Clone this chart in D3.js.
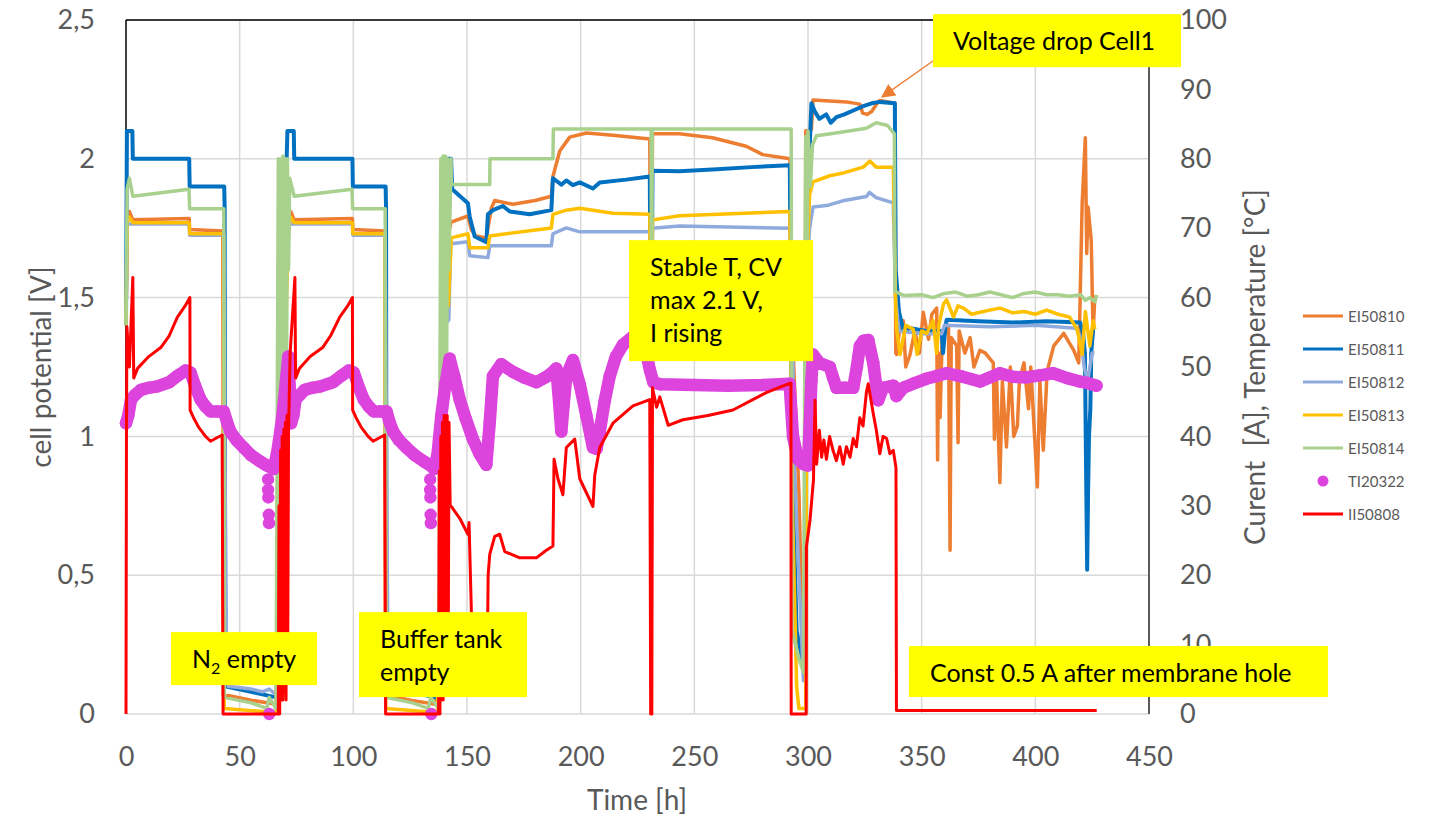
<!DOCTYPE html>
<html>
<head>
<meta charset="utf-8">
<script src="https://d3js.org/d3.v7.min.js"></script>
<style>
  body { margin: 0; background: #fff; }
  svg text { font-family: Lato, "Open Sans", sans-serif; }
</style>
</head>
<body>
<svg id="chart" width="1435" height="816"></svg>
<script>
// ---- data: [time h, value] ----
const EI50810 = [[0,1.4],[0.5,1.78],[1.5,1.81],[3,1.78],[27.8,1.785],[28,1.745],[42.6,1.74],[42.8,0.07],[55,0.05],[66,0.035],[68,0.3],[70,1.5],[71,1.78],[72.5,1.81],[74,1.78],[99.6,1.785],[99.8,1.745],[113.9,1.74],[114.1,0.07],[125,0.05],[136,0.035],[138,0.3],[141,1.7],[143,1.772],[150.4,1.794],[151.9,1.744],[154,1.722],[158.5,1.715],[160.7,1.822],[162.2,1.85],[170.2,1.836],[180,1.85],[187.1,1.865],[187.8,1.936],[190.8,2.028],[195.2,2.078],[202.5,2.093],[214.2,2.085],[230.4,2.071],[231,1.2],[231.6,2.09],[243.4,2.09],[258,2.076],[272.8,2.045],[280.1,2.015],[292,2.0],[293,1.4],[296,0.8],[297.5,0.3],[298.5,0.5],[299,2.1],[301.5,2.106],[302.2,2.212],[316.9,2.205],[322.8,2.197],[324,2.165],[326,2.16],[328,2.17],[330,2.195],[331.6,2.21],[338.2,2.2],[338.6,1.3],[339,1.295],[340.5,1.4],[341.9,1.417],[343,1.25],[344.9,1.295],[347,1.38],[349,1.3],[350.7,1.447],[353,1.35],[354.5,1.44],[356.6,1.462],[357,0.915],[357.5,1.3],[358.1,1.068],[359,1.35],[361.8,1.4],[362.5,0.59],[363,1.356],[365.4,1.326],[366,0.977],[366.5,1.38],[369,1.3],[371.3,1.356],[373,1.25],[375.6,1.31],[378,1.3],[381.5,1.265],[382,0.99],[383,1.2],[384.4,0.833],[385.5,1.2],[387.3,0.962],[389,1.25],[390.5,1.0],[392.1,1.038],[393,1.2],[395,1.265],[397,1.1],[398,1.25],[400.9,0.818],[402,1.2],[403.5,0.95],[405.2,1.235],[408.1,1.326],[412.5,1.371],[416.9,1.31],[419.1,1.265],[420.6,1.84],[422,2.076],[422.6,1.659],[423.2,1.826],[424.6,1.705],[425.4,1.371],[426.2,1.508]];

const EI50811 = [[0,1.4],[0.4,2.1],[2.8,2.1],[3,2.0],[27.8,2.0],[28,1.9],[43.2,1.9],[43.4,1.82],[43.6,0.1],[55,0.08],[66,0.06],[67,0.08],[69,1.3],[70,1.8],[71,2.1],[73.8,2.1],[74,2.0],[99.6,2.0],[99.8,1.9],[114.2,1.9],[114.4,1.82],[114.6,0.1],[125,0.08],[136,0.06],[138,0.08],[140,1.6],[141,2.0],[143,2.0],[143.5,1.89],[150.4,1.84],[151.2,1.79],[153.4,1.72],[158.5,1.70],[159.2,1.8],[161.4,1.815],[165.8,1.83],[168.8,1.81],[177.6,1.8],[187.1,1.815],[187.8,1.93],[191.5,1.907],[193.7,1.922],[196.6,1.905],[199.6,1.915],[205.4,1.893],[208.4,1.915],[220,1.925],[230.4,1.936],[231,1.2],[231.6,1.957],[243.4,1.955],[260,1.962],[275,1.97],[292,1.977],[293,0.9],[295,0.3],[298.5,0.15],[299.2,1.6],[300.5,1.99],[301.5,2.2],[303,2.17],[305,2.144],[308,2.16],[310,2.13],[312.5,2.15],[316,2.16],[319.9,2.174],[324.3,2.19],[328,2.2],[331.6,2.205],[338.2,2.2],[338.6,1.6],[340,1.45],[342,1.38],[345,1.39],[352,1.38],[358.8,1.38],[359.4,1.30],[360.5,1.40],[361,1.42],[375,1.415],[390,1.41],[405,1.415],[419.7,1.41],[421,1.37],[421.8,1.3],[422.3,0.9],[422.8,0.52],[423.2,0.8],[423.6,1.0],[424.2,1.1],[424.6,1.3],[425.4,1.386]];

const EI50812 = [[0,1.4],[0.5,1.765],[27.8,1.765],[28,1.725],[43,1.725],[43.5,0.96],[44.2,0.27],[45,0.1],[55,0.09],[60,0.08],[63,0.09],[66,0.07],[68,0.5],[70,1.42],[71,1.7],[72,1.765],[99.6,1.765],[99.8,1.725],[114,1.725],[114.5,0.96],[115.2,0.27],[116,0.1],[126,0.09],[131,0.08],[134,0.09],[137,0.07],[139,0.6],[140,1.4],[142,1.42],[142.8,1.694],[150.4,1.701],[151.2,1.651],[159.2,1.644],[160,1.687],[187.1,1.687],[187.8,1.73],[193.7,1.751],[199.6,1.737],[230.4,1.737],[231,1.18],[231.6,1.75],[243.4,1.758],[292,1.75],[293,1.5],[294,0.9],[296,0.5],[298,0.12],[299,0.2],[299.5,1.6],[300.7,1.75],[302.2,1.826],[309,1.833],[316,1.85],[325.7,1.864],[327,1.879],[330,1.86],[337.5,1.841],[338.5,1.5],[340,1.38],[350,1.37],[358.8,1.37],[360,1.40],[380,1.395],[400,1.40],[418,1.39],[420,1.35],[421.5,1.25],[423,1.2],[425,1.3],[426,1.3]];

const EI50813 = [[0,1.4],[0.5,1.77],[1.5,1.79],[3,1.77],[27.8,1.77],[28,1.73],[42.9,1.73],[43.2,0.02],[66,0.005],[68,0.8],[69,1.46],[70.5,1.46],[71.5,1.75],[72.5,1.79],[74,1.77],[99.6,1.77],[99.8,1.73],[114,1.73],[114.3,0.02],[137,0.005],[139,1.0],[140,1.47],[141.8,1.47],[143.1,1.715],[150.4,1.73],[151.2,1.68],[159.2,1.68],[160,1.722],[187.1,1.751],[187.8,1.8],[193.7,1.815],[199.6,1.822],[214.2,1.804],[230.4,1.8],[231,1.18],[231.6,1.78],[243.4,1.795],[292,1.81],[293,0.8],[295,0.1],[296,0.02],[299,0.02],[299.5,1.6],[300.7,1.871],[302.2,1.917],[309.6,1.939],[316,1.95],[324.3,1.97],[327.2,1.992],[330,1.97],[337.5,1.97],[338.5,1.5],[339,1.386],[340.5,1.295],[343,1.4],[346.3,1.386],[348,1.295],[350,1.38],[352.2,1.371],[355,1.417],[356.6,1.3],[357.5,1.4],[359.6,1.477],[361,1.492],[364,1.43],[366,1.47],[368.4,1.462],[372,1.44],[375.7,1.447],[380,1.455],[384.6,1.462],[390,1.445],[395,1.45],[400,1.44],[405,1.455],[410,1.44],[415,1.43],[418.4,1.386],[420.6,1.295],[422,1.45],[424,1.326],[425.4,1.417],[426.2,1.386]];

const EI50814 = [[0,1.4],[0.5,1.89],[1.5,1.93],[3,1.865],[27.7,1.89],[28,1.82],[43,1.82],[43.3,0.06],[55,0.04],[62,0.02],[63,0.06],[66,0.02],[67,2.0],[67.5,0.1],[68,2.0],[68.5,0.2],[69,2.01],[69.5,0.5],[70,2.0],[70.5,1.0],[71,2.0],[71.5,1.6],[72,1.93],[74,1.865],[99.4,1.89],[99.7,1.82],[114,1.82],[114.3,0.06],[126,0.04],[133,0.02],[134,0.06],[137.5,0.02],[138.5,2.0],[139,0.3],[139.5,2.01],[140,0.8],[140.5,2.01],[141,1.2],[141.5,2.0],[142,1.6],[143,2.0],[143.1,1.907],[160,1.907],[160.1,2.0],[187.8,2.0],[188,2.107],[231,2.107],[231.2,1.18],[231.5,2.107],[292.6,2.107],[293,0.3],[296,0.2],[298,0.15],[299,2.08],[299.5,1.5],[300,2.1],[301,1.9],[302,2.05],[303.7,2.083],[310,2.09],[318,2.1],[325.7,2.11],[330,2.13],[335,2.12],[338,2.09],[338.2,1.523],[342,1.508],[350,1.51],[355,1.50],[360,1.515],[365,1.52],[370,1.505],[375,1.51],[380,1.52],[385,1.51],[390,1.50],[395,1.515],[400,1.52],[405,1.51],[410,1.51],[415,1.505],[420,1.51],[422,1.49],[424,1.50],[426.2,1.485],[427,1.51]];

// temperature, °C (right axis)
const TI20322 = [[0,41.9],[1,43],[2.2,45.3],[4,46],[6.6,46.7],[10,47],[13.8,47.2],[19,47.8],[23,48.8],[26.2,49.5],[28.4,49.2],[30.5,47.2],[32.8,45.3],[35,44.3],[37.2,43.6],[40,43.6],[43,43.6],[44.5,42],[45.9,40.7],[48.5,39.5],[51.7,38.4],[55,37.3],[59,36.4],[62,35.8],[64.9,35.3],[66.3,37.3],[67.8,40.5],[69.2,44.1],[70.5,48.5],[71.4,51.5],[72.2,46],[72.6,41.9],[73.6,43],[74.6,45.3],[76.5,46],[78.6,46.7],[82,47],[85.6,47.2],[91,47.8],[95,48.8],[98,49.5],[100.2,49.2],[102.3,47.2],[104.6,45.3],[106.8,44.3],[109,43.6],[112,43.6],[114.6,43.6],[116,42],[117.5,40.7],[120,39.5],[123.3,38.4],[127,37.3],[131,36.4],[134,35.8],[135.5,35.3],[137,37.3],[138.7,43],[140.5,47.5],[142.4,51.2],[144.5,48.5],[146.8,45.3],[149.5,42.5],[152.6,39.6],[155.5,37.5],[158.5,35.9],[160,42],[161.4,48.7],[165.1,50.4],[170.2,49.3],[175,48.5],[180.5,47.8],[185,48.6],[187.8,49.3],[189.3,49.8],[190.5,45],[191.5,40.7],[192.5,44.5],[193.7,48.7],[196.6,51],[199.6,47.5],[202.5,43],[205.4,38.4],[207,38.2],[208.4,40.7],[210.5,45],[212.8,48.7],[215.5,51.5],[218.6,53.2],[223,54.4],[226,54],[228.5,52.5],[230.5,49.5],[232,47.8],[235,47.5],[250,47.4],[265,47.3],[280,47.4],[291.9,47.6],[293.4,40],[295.6,36.7],[298,36],[300,35.8],[300.8,42],[301.5,48],[302.2,51.8],[305,50.6],[309.6,50],[311,48.5],[312.5,47],[316,47],[319.9,47],[321.5,50],[322.8,53],[324.5,53.8],[326.5,53.9],[328.7,50.6],[330.9,45.2],[333,47],[337.5,47.3],[338.9,45.8],[341.9,47],[346.3,47.6],[352,48.3],[361,49.1],[368,48.6],[375.7,47.9],[384.4,49.1],[390,48.6],[396.1,48.5],[402,48.8],[407.8,49.1],[414,48.4],[419.6,47.9],[423,47.7],[426.9,47.3]];
const TI20322_low = [[62.5,33.8],[62.5,32.3],[62.6,31.2],[62.8,28.7],[62.9,27.5],[63,0],[133.8,33.8],[133.8,32.3],[133.9,31.2],[134,28.7],[134.1,27.5],[134.3,0]];

// current, A (right axis)
const II50808 = [[0,0],[0.2,40],[0.4,55.8],[1.5,50],[3,62.9],[3.4,48.4],[5.1,49.8],[10,51.5],[15.3,52.8],[19,54.5],[22.6,57.2],[26,58.8],[28.1,60],[28.2,43.8],[30,42.5],[32,41.3],[35,40],[37.2,39.3],[40,39.8],[42.3,40.2],[42.7,0],[67,0],[67.3,30],[67.6,0],[68,38],[68.3,2],[68.7,40],[69,2],[69.4,41],[69.7,3],[70.1,42],[70.4,2],[70.8,43],[71.1,5],[71.5,41],[72.2,52],[74.3,62.9],[74.6,48.4],[76.3,49.8],[81,51.5],[86.5,52.8],[90,54.5],[94,57.2],[97.5,58.8],[99.6,60],[99.7,43.8],[101.5,42.5],[103.5,41.3],[106.5,40],[108.7,39.3],[111.5,39.8],[113.8,40.2],[114.2,0],[137.5,0],[137.8,35],[138.1,0],[138.5,40],[138.8,2],[139.2,42],[139.5,2],[139.9,43],[140.2,3],[140.6,43],[140.9,3],[141.3,43],[141.7,5],[142.1,42],[142.6,30],[143.1,29.9],[146.8,28.2],[150.4,25.9],[150.9,27.6],[151.9,15.1],[152.5,4],[158.8,4],[159.3,20],[160,23],[162.2,25.6],[164.4,25.9],[166.6,23.4],[173.2,22.5],[180.5,22.5],[184.9,23.6],[187.8,24.2],[188.3,36.7],[190,33.9],[192.2,31.6],[193.7,38.4],[197.4,39.6],[199.6,33.9],[205.4,29.9],[206.2,34.4],[208.4,38.4],[214.2,41.9],[223,44.4],[230.4,45.3],[230.8,0],[231.3,0],[231.6,47],[233.4,44.2],[234.8,45.7],[238.5,41.6],[245,42.4],[256,43],[267,43.8],[281.6,46.3],[292.5,47.7],[292.6,0],[299.2,0],[299.3,24.1],[300.9,28],[302.4,33.7],[303.1,45.2],[303.8,36],[305,40.9],[306,37],[307,39.5],[308.1,36.7],[309.5,40],[311,38],[312.5,36.5],[314,38.5],[315.5,36],[316.9,38.5],[318.5,37],[319.9,39.7],[321.3,38.5],[322.8,42.7],[324.2,41.5],[325.7,46.4],[326.5,47.6],[328.7,43.3],[330,41],[331.6,37.5],[333,40],[334.6,39.7],[336,37.5],[337.5,38],[338.7,35.5],[338.9,0.5],[427,0.5]];

const xTicks = [0,50,100,150,200,250,300,350,400,450];
const yLeftTicks = [0,0.5,1,1.5,2,2.5];
const yRightTicks = [0,10,20,30,40,50,60,70,80,90,100];

const voltSeries = [
  {name:"EI50810", data:EI50810, color:"#ED7D31"},
  {name:"EI50811", data:EI50811, color:"#0070C0"},
  {name:"EI50812", data:EI50812, color:"#8FAADC"},
  {name:"EI50813", data:EI50813, color:"#FFC000"},
  {name:"EI50814", data:EI50814, color:"#A9D18E"}
];
const tempColor = "#DD44DD", currColor = "#FF0000";

// annotations anchored in data units (top-left corner)
const notes = [
  {t:355, v:2.521, w:248, h:53, lines:["Voltage drop Cell1"], dx:20, dy:36},
  {t:221.3, v:1.707, w:184, h:121, lines:["Stable T, CV","max 2.1 V,","I rising"], dx:21, dy:36},
  {t:19.8, v:0.295, w:146, h:53, lines:["N|2| empty"], dx:21, dy:36},
  {t:102.5, v:0.367, w:168, h:85, lines:["Buffer tank","empty"], dx:21, dy:36},
  {t:344.4, v:0.245, w:419, h:51, lines:["Const 0.5 A after membrane hole"], dx:21, dy:36}
];

const svg = d3.select("#chart");
const pL = 126, pR = 1149, pT = 20, pB = 714;
const x = d3.scaleLinear().domain([0,450]).range([pL,pR]);
const yL = d3.scaleLinear().domain([0,2.5]).range([pB,pT]);
const yR = d3.scaleLinear().domain([0,100]).range([pB,pT]);

// grid
svg.append("g").selectAll("line").data(yLeftTicks).enter().append("line")
  .attr("x1", pL).attr("x2", pR).attr("y1", d => yL(d)).attr("y2", d => yL(d))
  .attr("stroke", "#d9d9d9").attr("stroke-width", 1.5);
svg.append("g").selectAll("line").data(xTicks.slice(1, -1)).enter().append("line")
  .attr("x1", d => x(d)).attr("x2", d => x(d)).attr("y1", pT).attr("y2", pB)
  .attr("stroke", "#d9d9d9").attr("stroke-width", 1.5);

// frame
svg.append("line").attr("x1", pL).attr("x2", pR).attr("y1", pT).attr("y2", pT).attr("stroke", "#000").attr("stroke-width", 1.5);
svg.append("line").attr("x1", pL).attr("x2", pL).attr("y1", pT).attr("y2", pB).attr("stroke", "#000").attr("stroke-width", 1.5);
svg.append("line").attr("x1", pR).attr("x2", pR).attr("y1", pT).attr("y2", pB).attr("stroke", "#262626").attr("stroke-width", 1.5);

// axes
function styleAxis(g) {
  g.select(".domain").remove();
  g.selectAll("line").remove();
  g.selectAll("text").attr("fill", "#595959").style("font-size", "27px").style("font-family", "Lato, sans-serif");
}
svg.append("g").attr("transform", `translate(${pL},0)`)
  .call(d3.axisLeft(yL).tickValues(yLeftTicks).tickSize(0).tickPadding(31).tickFormat(d => String(d).replace(".", ",")))
  .call(styleAxis);
svg.append("g").attr("transform", `translate(${pR},0)`)
  .call(d3.axisRight(yR).tickValues(yRightTicks).tickSize(0).tickPadding(31))
  .call(styleAxis);
svg.append("g").attr("transform", `translate(0,${pB})`)
  .call(d3.axisBottom(x).tickValues(xTicks).tickSize(0).tickPadding(33))
  .call(styleAxis);

// titles
svg.append("text").attr("transform", "translate(40,367) rotate(-90)").attr("text-anchor", "middle")
  .attr("dominant-baseline", "central").attr("fill", "#595959").style("font-size", "28px").text("cell potential [V]");
svg.append("text").attr("transform", "translate(1254,367) rotate(-90)").attr("text-anchor", "middle")
  .attr("dominant-baseline", "central").attr("fill", "#595959").style("font-size", "28px")
  .style("white-space", "pre").text("Curent  [A], Temperature [°C]");
svg.append("text").attr("x", 637).attr("y", 810).attr("text-anchor", "middle")
  .attr("fill", "#595959").style("font-size", "28px").text("Time [h]");

// series
const lineL = d3.line().x(d => x(d[0])).y(d => yL(d[1]));
const lineR = d3.line().x(d => x(d[0])).y(d => yR(d[1]));
const plot = svg.append("g");
voltSeries.forEach(s => {
  plot.append("path").datum(s.data).attr("d", lineL).attr("fill", "none")
    .attr("stroke", s.color).attr("stroke-width", s.name === "EI50811" ? 4 : 3.5)
    .attr("stroke-linejoin", "round");
});
plot.append("path").datum(TI20322).attr("d", lineR).attr("fill", "none")
  .attr("stroke", tempColor).attr("stroke-width", 12.5).attr("stroke-linejoin", "round").attr("stroke-linecap", "round");
plot.append("g").selectAll("circle").data(TI20322.concat(TI20322_low)).enter().append("circle")
  .attr("cx", d => x(d[0])).attr("cy", d => yR(d[1])).attr("r", 6.2).attr("fill", tempColor);
plot.append("path").datum(II50808).attr("d", lineR).attr("fill", "none")
  .attr("stroke", currColor).attr("stroke-width", 3).attr("stroke-linejoin", "round");

// legend
const legendItems = voltSeries.map(s => ({name: s.name, color: s.color, dot: false}))
  .concat([{name:"TI20322", color:tempColor, dot:true}, {name:"II50808", color:currColor, dot:false}]);
const lg = svg.append("g").selectAll("g").data(legendItems).enter().append("g")
  .attr("transform", (d, i) => `translate(1303,${316 + i * 33})`);
lg.filter(d => !d.dot).append("line").attr("x1", 0).attr("x2", 40).attr("stroke", d => d.color).attr("stroke-width", 3);
lg.filter(d => d.dot).append("circle").attr("cx", 20).attr("r", 5.5).attr("fill", d => d.color);
lg.append("text").attr("x", 45).attr("dominant-baseline", "central").attr("fill", "#595959")
  .style("font-size", "15px").text(d => d.name);

// annotation arrow
svg.append("defs").append("marker").attr("id", "arr").attr("viewBox", "0 0 10 10")
  .attr("refX", 9).attr("refY", 5).attr("markerWidth", 14).attr("markerHeight", 14)
  .attr("markerUnits", "userSpaceOnUse").attr("orient", "auto")
  .append("path").attr("d", "M0,0 L10,5 L0,10 z").attr("fill", "#ED7D31");
svg.append("line").attr("x1", x(355.6)).attr("y1", yL(2.356)).attr("x2", x(332.6)).attr("y2", yL(2.223))
  .attr("stroke", "#ED7D31").attr("stroke-width", 1.3).attr("marker-end", "url(#arr)");

// annotation boxes
const ng = svg.append("g").selectAll("g").data(notes).enter().append("g")
  .attr("transform", d => `translate(${x(d.t)},${yL(d.v)})`);
ng.append("rect").attr("width", d => d.w).attr("height", d => d.h).attr("fill", "#FFFF00");
ng.each(function(d) {
  const g = d3.select(this);
  d.lines.forEach((ln, i) => {
    const t = g.append("text").attr("x", d.dx).attr("y", d.dy + i * 33)
      .attr("fill", "#000").style("font-size", "25px");
    ln.split("|").forEach((part, j) => {
      const sp = t.append("tspan").text(part);
      if (j === 1) sp.style("font-size", "16px").attr("dy", 6);
      if (j === 2) sp.attr("dy", -6);
    });
  });
});
</script>
</body>
</html>
